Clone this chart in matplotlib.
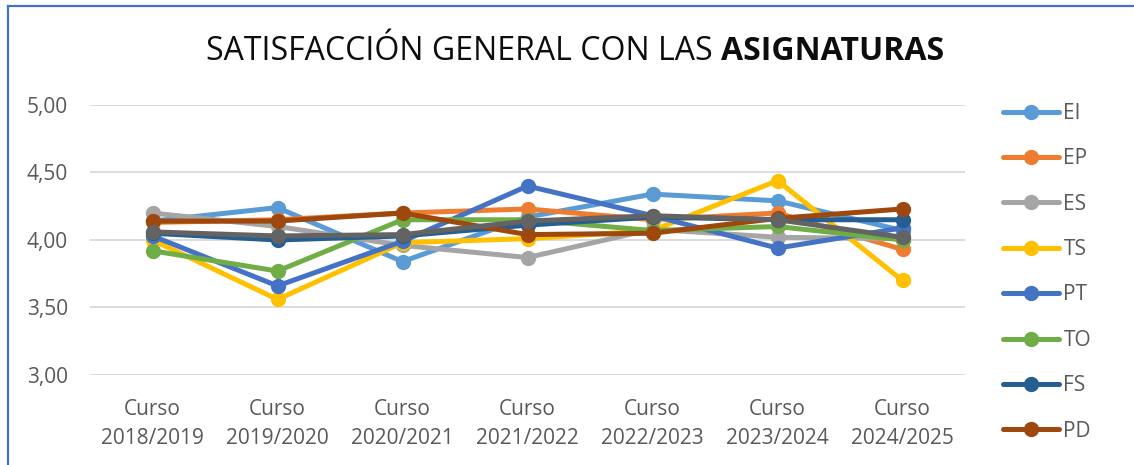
import matplotlib
matplotlib.use("Agg")
import matplotlib.pyplot as plt
from matplotlib.lines import Line2D

plt.rcParams['font.family'] = ['Open Sans', 'DejaVu Sans']

categories = ["Curso\n2018/2019", "Curso\n2019/2020", "Curso\n2020/2021", "Curso\n2021/2022",
              "Curso\n2022/2023", "Curso\n2023/2024", "Curso\n2024/2025"]
yticks = [3.00, 3.50, 4.00, 4.50, 5.00]
ytick_labels = ["3,00", "3,50", "4,00", "4,50", "5,00"]

EI = [4.14, 4.24, 3.84, 4.17, 4.34, 4.29, 4.07]
EP = [4.13, 4.15, 4.20, 4.23, 4.15, 4.20, 3.93]
ES = [4.20, 4.10, 3.96, 3.87, 4.08, 4.02, 4.01]
TS = [4.00, 3.56, 3.98, 4.01, 4.07, 4.44, 3.70]
PT = [4.03, 3.66, 3.99, 4.40, 4.18, 3.94, 4.09]
TO = [3.92, 3.77, 4.15, 4.15, 4.07, 4.10, 4.00]
FS = [4.05, 4.00, 4.03, 4.11, 4.17, 4.15, 4.15]
PD = [4.14, 4.14, 4.20, 4.04, 4.05, 4.16, 4.23]
TOTAL = [4.06, 4.03, 4.04, 4.14, 4.18, 4.15, 4.02]

series = [("EI", EI, "#5B9BD5"), ("EP", EP, "#ED7D31"), ("ES", ES, "#A5A5A5"),
          ("TS", TS, "#FFC000"), ("PT", PT, "#4472C4"), ("TO", TO, "#70AD47"),
          ("FS", FS, "#255E91"), ("PD", PD, "#9E480E"), ("_TOTAL", TOTAL, "#636363")]

W, H = 1134, 465
fig = plt.figure(figsize=(W / 100, H / 100), dpi=100)
ax = fig.add_axes([90 / W, 1 - 375 / H, (965 - 90) / W, (375 - 105) / H])

x = list(range(len(categories)))
for name, vals, col in series:
    ax.plot(x, vals, color=col, lw=3.6, marker='o', ms=10, label=name,
            solid_capstyle='round', solid_joinstyle='round', zorder=3)

ax.set_xlim(-0.5, len(categories) - 0.5)
ax.set_ylim(3.0, 5.0)
ax.set_yticks(yticks)
ax.set_yticklabels(ytick_labels)
ax.set_xticks(x)
ax.set_xticklabels(categories, linespacing=1.5)
ax.tick_params(axis='both', length=0, labelsize=15, labelcolor="#595959")
ax.tick_params(axis='y', pad=16)
ax.tick_params(axis='x', pad=17)
ax.grid(axis='y', color="#D9D9D9", lw=1.3, zorder=0)
for s in ax.spines.values():
    s.set_visible(False)

handles, labels = ax.get_legend_handles_labels()
leg = fig.legend(handles, labels, loc='upper left', bbox_to_anchor=(1003 / W, 1 - 103 / H),
                 frameon=False, fontsize=15, handlelength=2.7, handletextpad=0.2,
                 labelspacing=1.17, borderpad=0, borderaxespad=0, labelcolor="#595959")

# Title with bold last word
fig.canvas.draw()
r = fig.canvas.get_renderer()
t1 = fig.text(0, 0, "SATISFACCIÓN GENERAL CON LAS ", fontsize=23, color="#0D0D0D")
t2 = fig.text(0, 0, "ASIGNATURAS", fontsize=23, color="#0D0D0D", fontweight='bold')
w1 = t1.get_window_extent(r).width
w2 = t2.get_window_extent(r).width
cx = 575
start = cx - (w1 + w2) / 2
ty = 1 - 52 / H
t1.set_position((start / W, ty)); t1.set_va('center')
t2.set_position(((start + w1) / W, ty)); t2.set_va('center')

# selection border (top and left)
fig.add_artist(Line2D([7.5 / W, 7.5 / W], [0, 1 - 6.5 / H], color="#4472C4", lw=1.6))
fig.add_artist(Line2D([7.5 / W, 1], [1 - 6.5 / H, 1 - 6.5 / H], color="#4472C4", lw=1.6))

fig.savefig("out.png", dpi=100)
